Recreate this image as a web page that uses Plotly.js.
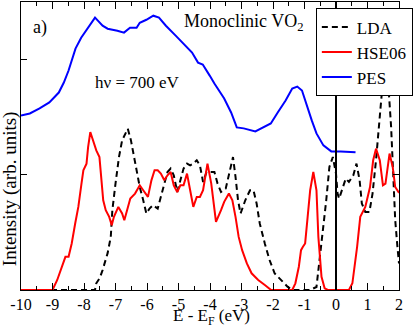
<!DOCTYPE html>
<html>
<head>
<meta charset="utf-8">
<script src="https://cdn.plot.ly/plotly-3.0.1.min.js"></script>
<style>
  html, body { margin: 0; padding: 0; background: #fff; }
  #chart { width: 415px; height: 330px; }
</style>
</head>
<body>
<div id="chart"></div>
<script>
// LDA (dashed black)
const ldaE = [-10, -7.65, -7.61, -7.50, -7.41, -7.25, -7.15, -7.10, -7.00, -6.89, -6.79, -6.61, -6.51, -6.43, -6.33,
  -6.23, -6.12, -6.02, -5.92, -5.81, -5.66, -5.56, -5.45, -5.35, -5.25, -5.15, -5.04, -4.94, -4.84, -4.73, -4.63,
  -4.53, -4.42, -4.32, -4.22, -4.11, -4.01, -3.86, -3.76, -3.65, -3.50, -3.34, -3.27, -3.19, -3.11, -3.03, -2.88,
  -2.73, -2.62, -2.52, -2.42, -2.26, -2.11, -1.95, -1.75, -1.54, -1.39, -0.83, -0.62, -0.52, -0.41, -0.31, -0.21,
  -0.10, 0.00, 0.05, 0.10, 0.21, 0.31, 0.41, 0.55, 0.65, 0.75, 0.82, 0.93, 1.06, 1.16, 1.27, 1.37, 1.47, 1.57,
  1.68, 1.75, 1.82, 1.88, 1.95, 2.0]
const ldaI = [0, 0, 0.058, 0.104, 0.173, 0.320, 0.461, 0.693, 0.924, 1.154, 1.299, 1.400, 1.299, 1.184, 1.039,
  0.894, 0.779, 0.664, 0.707, 0.736, 0.707, 0.808, 0.938, 1.024, 1.054, 0.996, 0.851, 0.952, 1.054, 1.097, 1.082,
  1.097, 1.126, 1.082, 0.938, 1.024, 1.024, 1.024, 0.924, 0.851, 0.881, 1.054, 1.154, 0.981, 0.779, 0.664, 0.779,
  0.866, 0.866, 0.751, 0.577, 0.404, 0.260, 0.145, 0.087, 0.029, 0, 0, 0.026, 0.260, 0.491, 0.779, 1.068,
  1.154, 1.010, 0.837, 0.794, 0.894, 0.967, 0.938, 0.996, 1.097, 0.952, 0.751, 0.678, 0.678, 0.837, 1.126, 1.472, 1.760, 1.818,
  1.703, 1.414, 0.981, 0.606, 0.375, 0.231]

// HSE06 (red)
const hseE = [-10, -9.00, -8.85, -8.69, -8.59, -8.49, -8.39, -8.28, -8.18, -8.08, -8.02, -7.92, -7.87, -7.80, -7.72,
  -7.61, -7.51, -7.46, -7.39, -7.31, -7.20, -7.12, -7.05, -6.91, -6.79, -6.72, -6.64, -6.53, -6.38, -6.23, -6.12,
  -5.97, -5.86, -5.76, -5.66, -5.56, -5.45, -5.35, -5.25, -5.15, -5.04, -4.94, -4.84, -4.73, -4.63, -4.53, -4.42,
  -4.32, -4.22, -4.08, -3.96, -3.86, -3.81, -3.65, -3.55, -3.40, -3.29, -3.19, -3.09, -2.98, -2.83, -2.68, -2.47,
  -2.26, -2.06, -1.39, -1.29, -1.18, -1.11, -1.05, -0.98, -0.90, -0.82, -0.72, -0.62, -0.56, -0.46, -0.36, -0.26,
  0.41, 0.52, 0.67, 0.77, 0.93, 1.08, 1.18, 1.27, 1.39, 1.49, 1.57, 1.70, 1.80, 1.88, 1.98, 2.0]
const hseI = [0, 0, 0.087, 0.202, 0.288, 0.288, 0.404, 0.577, 0.721, 0.924, 1.039, 1.097, 1.241, 1.371, 1.299,
  1.212, 1.154, 0.981, 0.779, 0.693, 0.635, 0.563, 0.635, 0.721, 0.664, 0.606, 0.693, 0.794, 0.837, 0.909, 0.866,
  0.808, 0.952, 1.039, 1.039, 1.010, 0.952, 0.996, 1.024, 0.909, 0.851, 0.909, 0.909, 1.010, 0.866, 0.721, 0.808,
  0.808, 0.866, 1.097, 0.924, 0.664, 0.591, 0.693, 0.765, 0.837, 0.779, 0.635, 0.461, 0.346, 0.231, 0.145, 0.087,
  0.043, 0, 0, 0.058, 0.202, 0.346, 0.375, 0.404, 0.635, 0.866, 1.024, 0.866, 0.461, 0.115, 0.015, 0,
  0, 0.058, 0.375, 0.635, 0.721, 0.894, 1.126, 1.227, 1.126, 0.909, 0.924, 1.184, 1.068, 0.894, 0.851, 0.857]

// PES (blue)
const pesE = [-10.0, -9.72, -9.41, -9.10, -8.80, -8.64, -8.49, -8.40, -8.27, -8.09, -7.93, -7.81, -7.65, -7.56, -7.41,
  -7.25, -7.04, -6.94, -6.73, -6.54, -6.33, -6.23, -6.02, -5.80, -5.62, -5.40, -5.09, -4.78, -4.57, -4.38, -4.23,
  -4.01, -3.86, -3.55, -3.33, -3.15, -2.93, -2.56, -2.31, -2.07, -1.85, -1.60, -1.39, -1.23, -1.08, -0.93, -0.77,
  -0.62, -0.40, -0.15, 0.15, 0.62]
const pesI = [1.515, 1.532, 1.576, 1.628, 1.714, 1.801, 1.905, 1.991, 2.095, 2.190, 2.251, 2.294, 2.364, 2.338, 2.294,
  2.268, 2.260, 2.251, 2.234, 2.277, 2.277, 2.320, 2.346, 2.381, 2.364, 2.294, 2.208, 2.121, 2.061, 1.974, 1.957,
  1.861, 1.792, 1.662, 1.541, 1.411, 1.403, 1.377, 1.411, 1.446, 1.541, 1.645, 1.749, 1.766, 1.732, 1.602, 1.472,
  1.359, 1.255, 1.203, 1.203, 1.195]

const xTicks = [-10, -9, -8, -7, -6, -5, -4, -3, -2, -1, 0, 1, 2]
const serif = 'Liberation Serif, Times New Roman, serif'

const data = [
  {x: ldaE, y: ldaI, type: 'scatter', mode: 'lines', name: 'LDA',
   line: {color: 'black', width: 2, dash: '6px,4px'}},
  {x: hseE, y: hseI, type: 'scatter', mode: 'lines', name: 'HSE06',
   line: {color: '#ff0000', width: 2}},
  {x: pesE, y: pesI, type: 'scatter', mode: 'lines', name: 'PES',
   line: {color: '#0000ff', width: 2}},
]

const layout = {
  width: 415,
  height: 330,
  margin: {l: 21, r: 5, t: 2, b: 40},
  paper_bgcolor: 'white',
  plot_bgcolor: 'white',
  font: {family: serif, size: 17, color: 'black'},
  showlegend: true,
  legend: {
    x: 0.78, y: 0.978, xanchor: 'left', yanchor: 'top',
    bordercolor: 'black', borderwidth: 1, bgcolor: 'white',
    font: {family: serif, size: 17},
    tracegroupgap: 0,
  },
  xaxis: {
    range: [-10, 2],
    tickvals: xTicks,
    ticktext: xTicks.map(String),
    ticks: 'inside', ticklen: 7, tickwidth: 1, tickcolor: 'black',
    minor: {dtick: 0.5, ticks: 'inside', ticklen: 4, tickcolor: 'black'},
    showline: true, linecolor: 'black', linewidth: 1, mirror: 'allticks',
    showgrid: false, zeroline: false,
    tickfont: {family: serif, size: 16},
    ticklabelstandoff: 0,
  },
  yaxis: {
    range: [0, 2.5],
    tickvals: [1, 2],
    showticklabels: false,
    ticks: 'inside', ticklen: 6, tickcolor: 'black',
    showline: true, linecolor: 'black', linewidth: 1, mirror: 'allticks',
    showgrid: false, zeroline: false,
  },
  shapes: [
    {type: 'line', xref: 'x', yref: 'paper', x0: 0, x1: 0, y0: 0, y1: 1,
     line: {color: 'black', width: 2}},
  ],
  annotations: [
    {text: 'a)', xref: 'paper', yref: 'paper', x: 0.049, y: 0.913, xanchor: 'center', yanchor: 'middle',
     showarrow: false, font: {family: serif, size: 18}},
    {text: 'Monoclinic VO<sub>2</sub>', xref: 'x', yref: 'paper', x: -4.88, y: 0.93, xanchor: 'left', yanchor: 'middle',
     showarrow: false, font: {family: serif, size: 18}},
    {text: 'h\u03bd = 700 eV', xref: 'x', yref: 'paper', x: -6.31, y: 0.719, xanchor: 'center', yanchor: 'middle',
     showarrow: false, font: {family: serif, size: 17}},
    {text: 'Intensity (arb. units)', xref: 'paper', yref: 'paper', x: 0, y: 0.35, xshift: -11,
     xanchor: 'center', yanchor: 'middle',
     textangle: -90, showarrow: false, font: {family: serif, size: 19}},
    {text: 'E - E<sub>F</sub> (eV)', xref: 'paper', yref: 'paper', x: 0.503, y: 0, yshift: -40,
     xanchor: 'center', yanchor: 'bottom', showarrow: false, font: {family: serif, size: 17}},
  ],
}

Plotly.newPlot('chart', data, layout, {displayModeBar: false, staticPlot: true})
</script>
</body>
</html>
